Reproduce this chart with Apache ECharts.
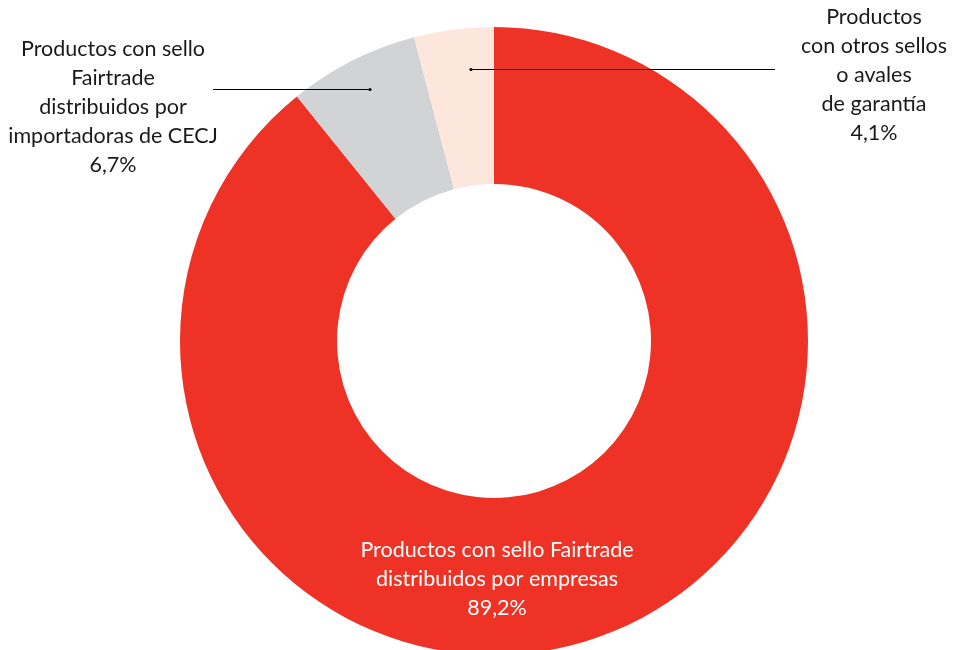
<!DOCTYPE html>
<html><head><meta charset="utf-8">
<script src="https://cdn.jsdelivr.net/npm/echarts@6/dist/echarts.min.js"></script>
<style>html,body{margin:0;padding:0;background:#fff}#c{width:954px;height:650px}</style>
</head><body><div id="c"></div>
<script>
const categories = [
  "Productos con sello Fairtrade\ndistribuidos por empresas",
  "Productos con sello\nFairtrade\ndistribuidos por\nimportadoras de CECJ",
  "Productos\ncon otros sellos\no avales\nde garantía"
];
const values = [89.2, 6.7, 4.1];
const valueLabels = ["89,2%", "6,7%", "4,1%"];
const colors = ["#EE3226", "#D1D3D4", "#FDE6DC"];

const chart = echarts.init(document.getElementById('c'), null, {renderer: 'canvas'});
const FONT = 'Lato';
const layouts = [
  {x: 497, y: 536, align: 'center', verticalAlign: 'top'},
  {x: 113, y: 35, align: 'center', verticalAlign: 'top'},
  {x: 874, y: 3, align: 'center', verticalAlign: 'top'}
];
// leader lines: [labelSide, sliceSide]
const leaders = [null, [[213, 89.5], [370, 89.5]], [[775, 69.5], [471, 69.5]]];
chart.setOption({
  animation: false,
  series: [{
    type: 'pie',
    center: [494, 341],
    radius: [157, 314],
    startAngle: 90,
    clockwise: true,
    silent: true,
    itemStyle: {borderWidth: 0},
    label: {
      show: true, position: 'outside', overflow: 'none', width: 400,
      fontFamily: FONT, fontSize: 21.5, lineHeight: 29, color: '#1a1a1a', align: 'center'
    },
    labelLine: {show: false},
    labelLayout: function (p) {
      const l = layouts[p.dataIndex];
      return {x: l.x, y: l.y, align: l.align, verticalAlign: l.verticalAlign};
    },
    data: categories.map((c, i) => ({
      name: c,
      value: values[i],
      itemStyle: {color: colors[i]},
      label: {
        formatter: c + '\n' + valueLabels[i],
        color: i === 0 ? '#ffffff' : '#1a1a1a'
      }
    }))
  }],
  graphic: leaders.filter(Boolean).flatMap(pts => [
    {type: 'polyline', z: 100, silent: true, shape: {points: pts}, style: {stroke: '#000', lineWidth: 1, fill: null}},
    {type: 'circle', z: 100, silent: true, shape: {cx: pts[1][0], cy: pts[1][1], r: 1.6}, style: {fill: '#000'}}
  ])
});
</script></body></html>
